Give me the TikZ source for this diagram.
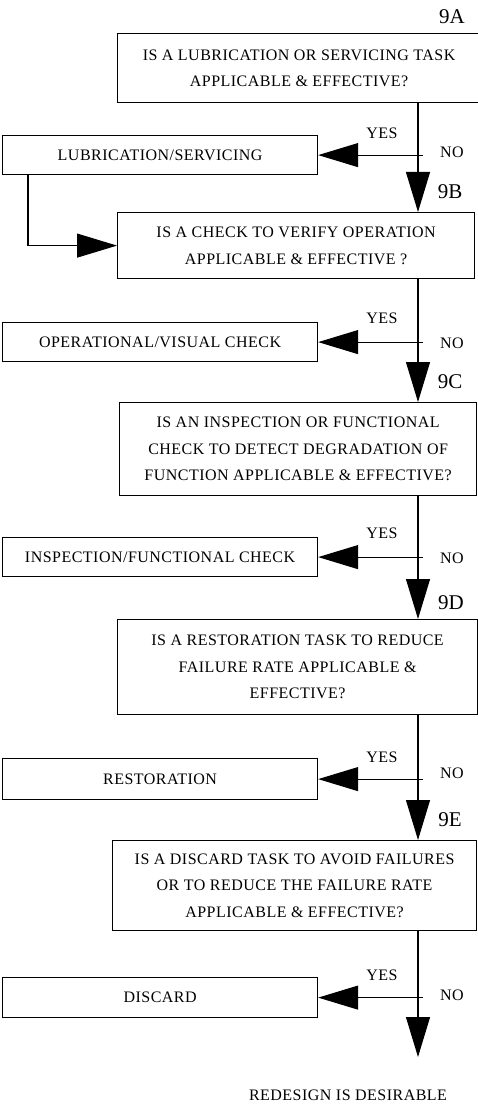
\documentclass[tikz,border=0pt]{standalone}
\usepackage{fontspec}
\setmainfont{Liberation Serif}
\newfontfamily\qfont[LetterSpace=3]{Liberation Serif}
\usetikzlibrary{arrows.meta}
\tikzset{
  qbox/.style={draw, line width=1.2pt, inner sep=0pt, align=center, anchor=north west,
    font=\qfont\fontsize{16}{26.5}\selectfont},
  abox/.style={draw, line width=1.2pt, inner sep=0pt, align=center, anchor=north west,
    minimum width=315pt, font=\qfont\fontsize{16}{18}\selectfont},
  lbl/.style={font=\qfont\fontsize{16}{18}\selectfont, inner sep=0pt},
  idlbl/.style={font=\fontsize{21}{24}\selectfont, inner sep=0pt},
  flow/.style={line width=1.1pt, -{Triangle[length=40pt,width=24pt]}},
}
\begin{document}
\begin{tikzpicture}[x=1pt,y=-1pt]
\useasboundingbox (0,0) rectangle (478,1107);
% decision boxes
\node[qbox, minimum width=363pt, minimum height=69pt] (q1) at (117,33)
  {IS A LUBRICATION OR SERVICING TASK\\APPLICABLE \& EFFECTIVE?};
\node[qbox, minimum width=357pt, minimum height=66pt] (q2) at (117,212)
  {IS A CHECK TO VERIFY OPERATION\\APPLICABLE \& EFFECTIVE ?};
\node[qbox, minimum width=357pt, minimum height=93pt] (q3) at (119,402)
  {IS AN INSPECTION OR FUNCTIONAL\\CHECK TO DETECT DEGRADATION OF\\FUNCTION APPLICABLE \& EFFECTIVE?};
\node[qbox, minimum width=360pt, minimum height=95pt] (q4) at (117,619)
  {IS A RESTORATION TASK TO REDUCE\\FAILURE RATE APPLICABLE \&\\EFFECTIVE?};
\node[qbox, minimum width=364pt, minimum height=90pt] (q5) at (112,840)
  {IS A DISCARD TASK TO AVOID FAILURES\\OR TO REDUCE THE FAILURE RATE\\APPLICABLE \& EFFECTIVE?};
% action boxes
\node[abox, minimum height=39pt] (a1) at (2,135) {LUBRICATION/SERVICING};
\node[abox, minimum height=39pt] (a2) at (2,322) {OPERATIONAL/VISUAL CHECK};
\node[abox, minimum height=39pt] (a3) at (2,537) {INSPECTION/FUNCTIONAL CHECK};
\node[abox, minimum height=41pt] (a4) at (2,758) {RESTORATION};
\node[abox, minimum height=40pt] (a5) at (2,977) {DISCARD};
% ids
\node[idlbl] (l9a) at (452,17) {9A};
\node[idlbl] (l9b) at (450,192) {9B};
\node[idlbl] (l9c) at (450,382) {9C};
\node[idlbl] (l9d) at (451,603) {9D};
\node[idlbl] (l9e) at (450,820) {9E};
% yes / no
\foreach \i/\yy/\ny in {1/133/152, 2/318/343, 3/533/558, 4/757/773, 5/975/995}{
  \node[lbl] (yes\i) at (382,\yy) {YES};
  \node[lbl] (no\i) at (452,\ny) {NO};
}
\node[lbl] (end) at (348,1095) {REDESIGN IS DESIRABLE};
% trunk
\coordinate (trunk) at (418,0);
\coordinate (endtip) at (418,1057);
\draw[flow] (q1.south -| trunk) -- (q2.north -| trunk);
\draw[flow] (q2.south -| trunk) -- (q3.north -| trunk);
\draw[flow] (q3.south -| trunk) -- (q4.north -| trunk);
\draw[flow] (q4.south -| trunk) -- (q5.north -| trunk);
\draw[flow] (q5.south -| trunk) -- (endtip);
% yes branches
\coordinate (br) at (423,0);
\foreach \i in {1,...,5}{
  \draw[flow] (a\i.east -| br) -- (a\i.east);
}
% feedback
\draw[flow] ([xshift=26pt]a1.south west) |- (q2.west);
\end{tikzpicture}
\end{document}
